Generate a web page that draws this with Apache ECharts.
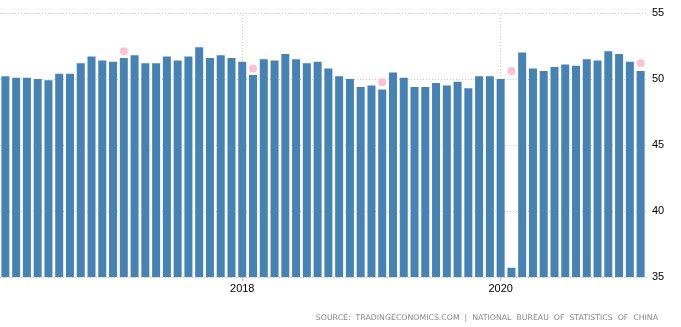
<!DOCTYPE html>
<html>
<head>
<meta charset="utf-8">
<script src="https://cdn.jsdelivr.net/npm/echarts@6/dist/echarts.min.js"></script>
<style>
html,body{margin:0;padding:0;background:#fff;}
#chart{width:681px;height:327px;}
</style>
</head>
<body>
<div id="chart"></div>
<script>
var months = [
  '2016-03','2016-04','2016-05','2016-06','2016-07','2016-08','2016-09','2016-10','2016-11','2016-12',
  '2017-01','2017-02','2017-03','2017-04','2017-05','2017-06','2017-07','2017-08','2017-09','2017-10','2017-11','2017-12',
  '2018-01','2018-02','2018-03','2018-04','2018-05','2018-06','2018-07','2018-08','2018-09','2018-10','2018-11','2018-12',
  '2019-01','2019-02','2019-03','2019-04','2019-05','2019-06','2019-07','2019-08','2019-09','2019-10','2019-11','2019-12',
  '2020-01','2020-02','2020-03','2020-04','2020-05','2020-06','2020-07','2020-08','2020-09','2020-10','2020-11','2020-12',
  '2021-01','2021-02'
];
var pmi = [
  50.2,50.1,50.1,50.0,49.9,50.4,50.4,51.2,51.7,51.4,
  51.3,51.6,51.8,51.2,51.2,51.7,51.4,51.7,52.4,51.6,51.8,51.6,
  51.3,50.3,51.5,51.4,51.9,51.5,51.2,51.3,50.8,50.2,50.0,49.4,
  49.5,49.2,50.5,50.1,49.4,49.4,49.7,49.5,49.8,49.3,50.2,50.2,
  50.0,35.7,52.0,50.8,50.6,50.9,51.1,51.0,51.5,51.4,52.1,51.9,
  51.3,50.6
];
var forecastMonths = ['2017-02','2018-02','2019-02','2020-02','2021-02'];
var forecastValues = [52.1, 50.8, 49.75, 50.6, 51.2];
var xTickLabels = ['2018-01','2020-01'];
var yMin = 35, yMax = 55, yStep = 5;
var sourceText = 'SOURCE:  TRADINGECONOMICS.COM  |  NATIONAL  BUREAU  OF  STATISTICS  OF  CHINA';

var forecastData = forecastMonths.map(function(m, i){ return [m, forecastValues[i]]; });
function isTick(idx, val){ return xTickLabels.indexOf(val) >= 0; }

var chart = echarts.init(document.getElementById('chart'), null, {renderer:'canvas'});
chart.setOption({
  animation: false,
  backgroundColor: '#fff',
  grid: {left: 0, right: 35, top: 13, bottom: 50, containLabel: false},
  xAxis: {
    type: 'category',
    data: months,
    boundaryGap: true,
    axisLine: {show: true, lineStyle: {color: '#cccccc', type: [1, 2], width: 1}},
    axisTick: {show: true, interval: isTick, alignWithLabel: true, length: 4, lineStyle: {color: '#bbbbbb'}},
    axisLabel: {
      interval: isTick,
      margin: 6,
      color: '#000',
      fontFamily: 'Liberation Sans',
      fontSize: 11,
      formatter: function(v){ return v.slice(0,4); }
    },
    splitLine: {show: false}
  },
  yAxis: {
    type: 'value',
    position: 'right',
    min: yMin, max: yMax, interval: yStep,
    axisLine: {show: false},
    axisTick: {show: false},
    axisLabel: {margin: 6, color: '#000', fontFamily: 'Liberation Sans', fontSize: 11},
    splitLine: {show: true, lineStyle: {color: '#cccccc', type: [1, 2], width: 1}}
  },
  series: [
    {
      type: 'bar',
      data: pmi,
      barWidth: 8,
      z: 2,
      itemStyle: {color: '#4682B4'},
      markLine: {
        z: 1,
        silent: true,
        symbol: ['none','none'],
        label: {show: false},
        lineStyle: {color: '#cccccc', type: [1, 2], width: 1},
        data: xTickLabels.map(function(m){ return {xAxis: m}; })
      }
    },
    {
      type: 'scatter',
      data: forecastData,
      symbol: 'circle',
      symbolSize: 8,
      z: 3,
      itemStyle: {color: '#FFB0CA'}
    }
  ],
  graphic: [{
    type: 'text',
    right: 23,
    top: 314,
    style: {
      text: sourceText,
      fill: '#888888',
      font: '7.8px "DejaVu Sans"'
    }
  }]
});
</script>
</body>
</html>
